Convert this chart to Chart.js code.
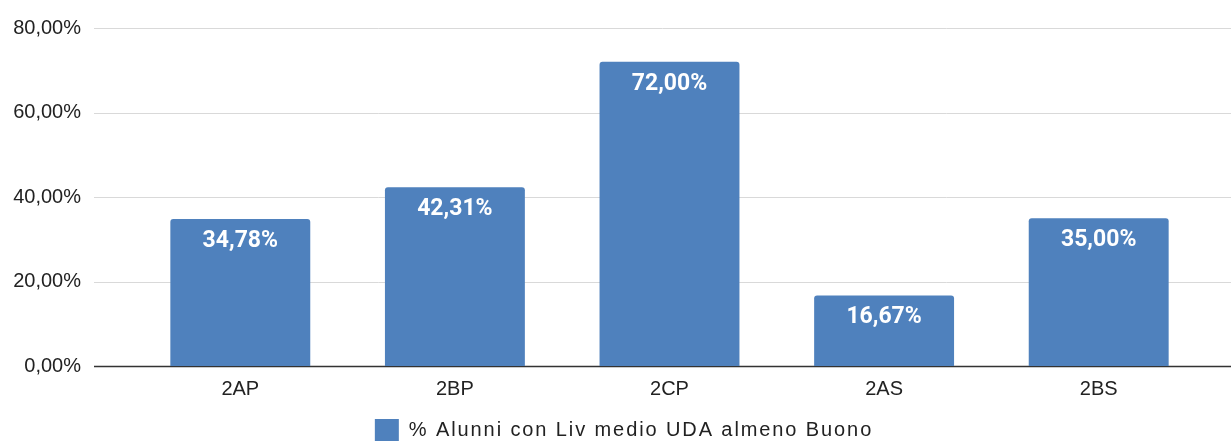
<!DOCTYPE html>
<html>
<head>
<meta charset="utf-8">
<script src="https://cdn.jsdelivr.net/npm/chart.js@4"></script>
<style>
  html, body { margin: 0; padding: 0; background: #fff; overflow: hidden; }
  #wrap { width: 1231px; height: 451px; position: relative; }
</style>
</head>
<body>
<div id="wrap"><canvas id="grafico"></canvas></div>
<script>
// dati
const classi = ['2AP', '2BP', '2CP', '2AS', '2BS'];
const percentuali = [34.78, 42.31, 72.00, 16.67, 35.00];
const nomeSerie = '% Alunni con Liv medio UDA almeno Buono';
const tickY = [0, 20, 40, 60, 80];

const formatta = v => v.toFixed(2).replace('.', ',') + '%';

// griglia orizzontale allargata oltre l'area delle barre
const grigliaLarga = {
    id: 'grigliaLarga',
    beforeDatasetsDraw(chart) {
        const ctx = chart.ctx;
        const y = chart.scales.y;
        ctx.save();
        tickY.forEach(t => {
            const py = Math.round(y.getPixelForValue(t)) + 0.5;
            ctx.beginPath();
            ctx.strokeStyle = t === 0 ? '#333333' : '#d9d9d9';
            ctx.lineWidth = t === 0 ? 1.5 : 1;
            ctx.moveTo(94, py);
            ctx.lineTo(1231, py);
            ctx.stroke();
        });
        ctx.restore();
    }
};

// etichette bianche dentro le barre
const etichette = {
    id: 'etichette',
    afterDatasetsDraw(chart) {
        const ctx = chart.ctx;
        const meta = chart.getDatasetMeta(0);
        ctx.save();
        ctx.fillStyle = '#ffffff';
        ctx.font = 'bold 23px Roboto';
        ctx.textAlign = 'center';
        ctx.textBaseline = 'middle';
        meta.data.forEach((bar, i) => {
            ctx.fillText(formatta(percentuali[i]), bar.x, bar.y + 22);
        });
        ctx.restore();
    }
};

// legenda con lettere un po' spaziate e spostata a destra
const spaziaLegenda = {
    id: 'spaziaLegenda',
    afterInit(chart) {
        const leg = chart.legend;
        if (!leg) return;
        const fit = leg.fit.bind(leg);
        const draw = leg.draw.bind(leg);
        leg.fit = function () {
            chart.ctx.save(); chart.ctx.letterSpacing = '1.9px'; fit(); chart.ctx.restore();
        };
        leg.draw = function () {
            chart.ctx.save();
            chart.ctx.letterSpacing = '1.9px';
            chart.ctx.translate(21, 0);
            draw();
            chart.ctx.restore();
        };
    }
};

new Chart(document.getElementById('grafico'), {
    type: 'bar',
    data: {
        labels: classi,
        datasets: [{
            label: nomeSerie,
            data: percentuali,
            backgroundColor: '#4f81bd',
            borderRadius: { topLeft: 3, topRight: 3 },
            borderSkipped: 'bottom',
            barPercentage: 0.652,
            categoryPercentage: 1
        }]
    },
    options: {
        responsive: true,
        maintainAspectRatio: false,
        animation: false,
        layout: { padding: { top: 28, right: 25, left: 0, bottom: 0 } },
        plugins: {
            legend: {
                position: 'bottom',
                labels: {
                    boxWidth: 24,
                    boxHeight: 22,
                    color: '#222',
                    font: { family: 'Liberation Sans', size: 20 },
                    padding: 7
                }
            },
            tooltip: { enabled: false }
        },
        scales: {
            x: {
                grid: { display: false, drawTicks: false },
                border: { display: false },
                ticks: { color: '#222', font: { family: 'Liberation Sans', size: 20 }, padding: 11 }
            },
            y: {
                min: 0,
                max: 80,
                afterBuildTicks: s => { s.ticks = tickY.map(v => ({ value: v })); },
                grid: { display: false, drawTicks: false },
                border: { display: false },
                afterFit: s => { s.width = 133; s.paddingTop = 10; s.paddingBottom = 10; },
                ticks: {
                    color: '#222',
                    font: { family: 'Liberation Sans', size: 20 },
                    padding: 52,
                    callback: v => formatta(v)
                }
            }
        }
    },
    plugins: [grigliaLarga, etichette, spaziaLegenda]
});
</script>
</body>
</html>
